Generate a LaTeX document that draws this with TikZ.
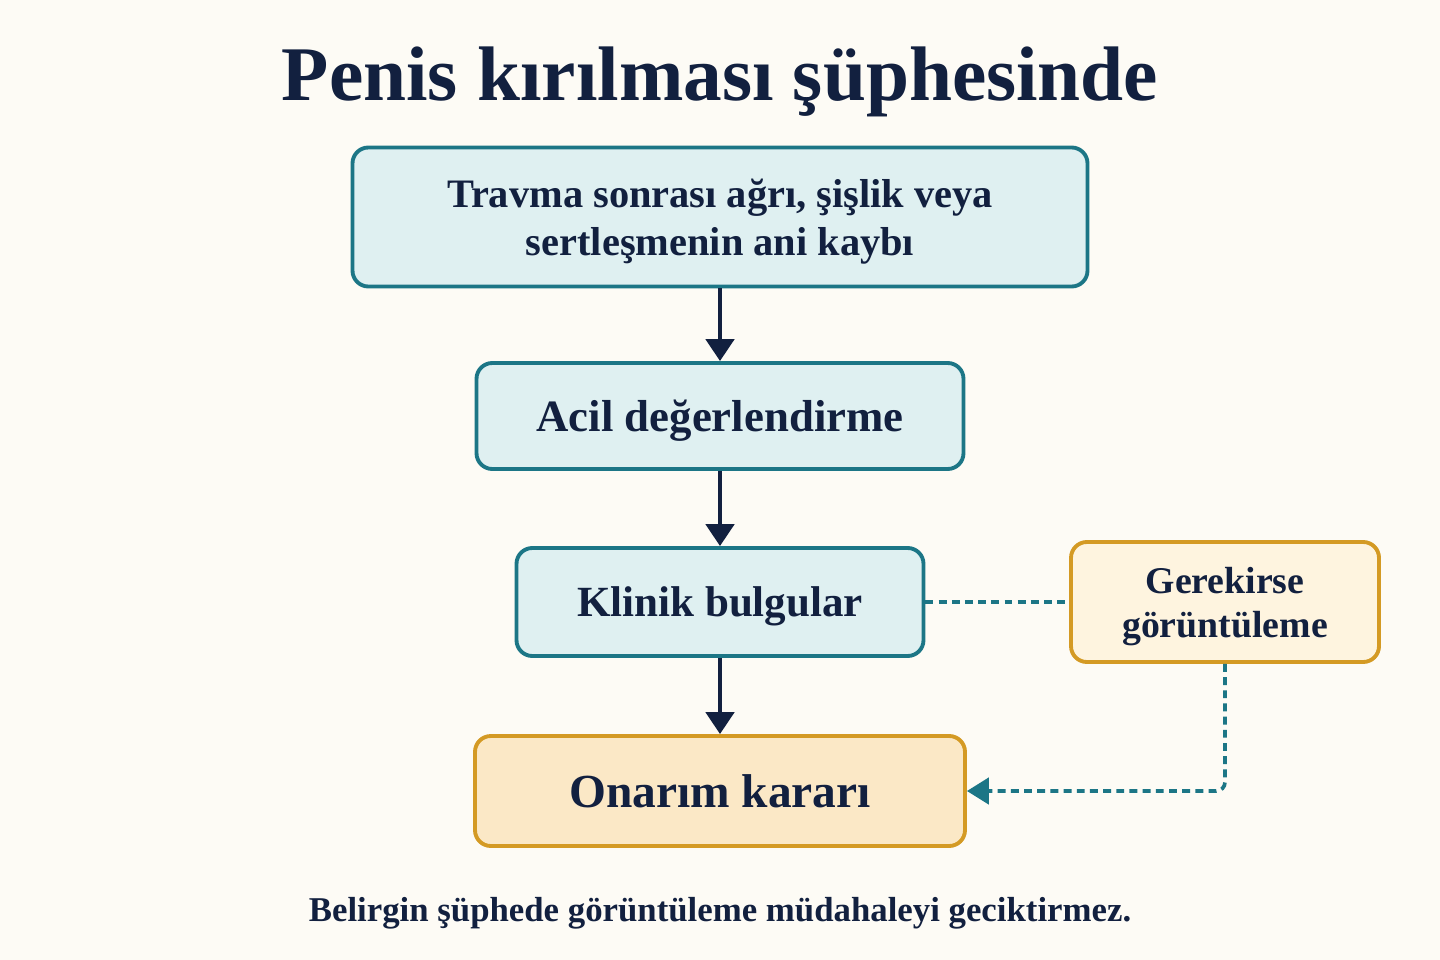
\documentclass[tikz,border=0pt]{standalone}
\usepackage{fontspec}
\setmainfont{Liberation Serif}
\usetikzlibrary{arrows.meta}

\definecolor{paper}{HTML}{FDFBF5}
\definecolor{ink}{HTML}{12203F}
\definecolor{tealedge}{HTML}{1C7686}
\definecolor{tealfill}{HTML}{DFF0F1}
\definecolor{goldedge}{HTML}{D49A24}
\definecolor{goldfill}{HTML}{FBE8C6}
\definecolor{creamfill}{HTML}{FEF4DF}

\newcommand\pxu{0.02cm}

\tikzset{
  stepbox/.style={draw=tealedge, fill=tealfill, line width=2.2pt,
    rounded corners=9pt, align=center, text=ink, inner sep=0pt,
    text depth=0pt, font=\bfseries},
  goldbox/.style={stepbox, draw=goldedge, fill=goldfill},
  flow/.style={draw=ink, line width=2.6pt, -{Triangle[width=16pt,length=12.5pt]}},
  dashline/.style={draw=tealedge, line width=2.1pt, dash pattern=on 4.5pt off 3pt}
}

\begin{document}
\begin{tikzpicture}[x=0.02cm, y=-0.02cm]
      % Background
      \fill[paper] (0,0) rectangle (1440,960);

      % Title
      \node[anchor=base, text=ink, font=\fontsize{44}{48}\selectfont\bfseries] (title)
        at (720, 100) {Penis kırılması şüphesinde};

      % Main steps
      \node[stepbox, minimum width=735*\pxu, minimum height=139*\pxu,
            font=\fontsize{23}{27.5}\selectfont\bfseries] (symptom) at (720, 217)
        {Travma sonrası ağrı, şişlik veya\\ sertleşmenin ani kaybı};
      \node[stepbox, minimum width=487*\pxu, minimum height=106*\pxu,
            font=\fontsize{25.5}{30}\selectfont\bfseries] (acil) at (720, 416)
        {Acil değerlendirme};
      \node[stepbox, minimum width=407*\pxu, minimum height=108*\pxu,
            font=\fontsize{24.5}{29}\selectfont\bfseries] (klinik) at (720, 602)
        {Klinik bulgular};
      \node[goldbox, minimum width=490*\pxu, minimum height=110*\pxu,
            font=\fontsize{27}{32}\selectfont\bfseries] (onarim) at (720, 791)
        {Onarım kararı};

      % Side step
      \node[goldbox, fill=creamfill, minimum width=308*\pxu, minimum height=120*\pxu,
            font=\fontsize{21.5}{25}\selectfont\bfseries] (imaging) at (1225, 602)
        {Gerekirse\\ görüntüleme};

      % Arrows
      \draw[flow] (symptom) -- (acil);
      \draw[flow] (acil) -- (klinik);
      \draw[flow] (klinik) -- (onarim);

      % Dashed side path
      \draw[dashline] (klinik.east) -- (imaging.west);
      \draw[dashline, rounded corners=5pt] (imaging.south) |- ([xshift=14pt]onarim.east);
      \draw[tealedge, line width=2.1pt, -{Triangle[width=15pt,length=12.5pt]}]
        ([xshift=14pt]onarim.east) -- (onarim.east);

      % Footnote
      \node[anchor=base, text=ink, font=\fontsize{19.8}{24}\selectfont\bfseries] (note)
        at (720, 921) {Belirgin şüphede görüntüleme müdahaleyi geciktirmez.};
\end{tikzpicture}
\end{document}
